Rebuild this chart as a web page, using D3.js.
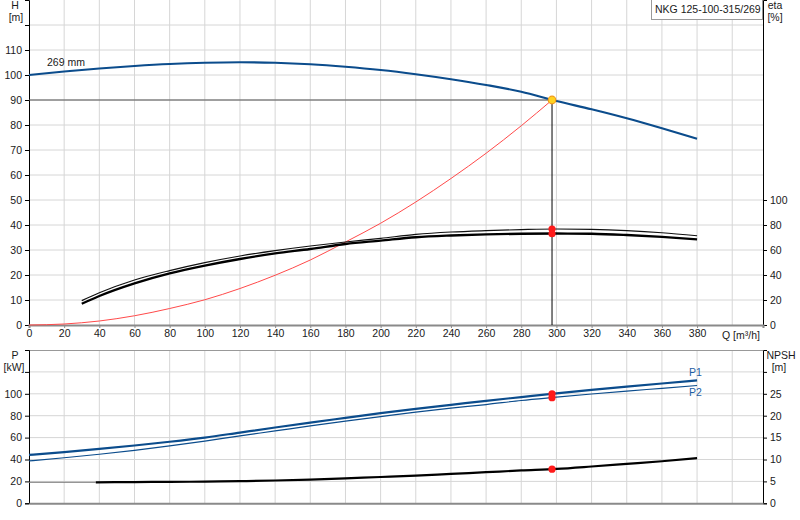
<!DOCTYPE html>
<html>
<head>
<meta charset="utf-8">
<script src="https://cdn.jsdelivr.net/npm/d3@7"></script>
<style>
  body { margin: 0; background: #fff; }
  svg { display: block; font-family: "Liberation Sans", Arial, sans-serif; }
  .tick text { font-size: 10.5px; fill: #1a1a1a; }
</style>
</head>
<body>
<svg id="chart" width="800" height="520"></svg>
<script>
// curve data
const qH = [0, 20, 40, 60, 80, 100, 120, 140, 160, 180, 200, 220, 240, 260, 280, 300, 320, 340, 360, 380];
const head = [100, 101.4, 102.6, 103.6, 104.4, 104.9, 105.1, 104.9, 104.3, 103.3, 102, 100.3, 98.3, 96, 93.3, 89.6, 86.3, 82.7, 78.7, 74.5];

const qSys = [0, 20, 40, 60, 80, 100, 120, 140, 160, 180, 200, 220, 240, 260, 280, 297.5];
const sysHead = [0, 0.4, 1.6, 3.7, 6.6, 10.1, 14.6, 19.9, 26, 33.2, 40.7, 49.2, 58.6, 68.7, 79.7, 90];

const qEta = [30, 40, 60, 80, 100, 120, 140, 160, 180, 200, 220, 240, 260, 280, 300, 320, 340, 360, 380];
const etaPump = [19.5, 25.8, 36, 43.5, 49.9, 55.2, 59.5, 63.2, 66.4, 69.3, 72.5, 74.4, 75.5, 76.3, 76.8, 76.5, 75.5, 73.8, 71.4];
const etaTotal = [17, 23.2, 33.3, 41.3, 47.5, 52.8, 57.3, 60.8, 64.8, 67.5, 70.2, 71.6, 72.5, 73, 73.2, 73, 72, 70.5, 68.5];

const qP = [0, 20, 40, 60, 80, 100, 120, 140, 160, 180, 200, 220, 240, 260, 280, 300, 320, 340, 360, 380];
const p1 = [44.2, 46.8, 49.7, 52.8, 56.2, 60, 64.6, 69.2, 73.7, 78, 82.3, 86.3, 89.9, 93.6, 97, 100.4, 103.5, 106.5, 109.4, 112.2];
const p2 = [38.7, 41.6, 44.8, 48.4, 52.4, 56.8, 61.6, 66.1, 70.7, 75, 79.2, 83.3, 86.9, 90.2, 93.9, 96.9, 99.8, 102.5, 105, 107.6];

const qNpsh = [38, 60, 80, 100, 120, 140, 160, 180, 200, 220, 240, 260, 280, 300, 320, 340, 360, 380];
const npsh = [4.8, 4.85, 4.9, 4.95, 5.05, 5.2, 5.4, 5.7, 6.0, 6.3, 6.7, 7.1, 7.5, 7.85, 8.4, 9.0, 9.6, 10.3];

// duty point
const dutyQ = 297.5;
const duty = { H: 90, etaPump: 76.8, etaTotal: 73, p1: 100, p2: 96.5, npsh: 7.8 };

const qTicks = d3.range(0, 400, 20);
const hTicks = d3.range(0, 120, 10);
const etaTicks = d3.range(0, 120, 20);
const pTicks = d3.range(0, 120, 20);
const npshTicks = d3.range(0, 30, 5);

const svg = d3.select("#chart");
const blue = "#0b4c8c";
const grid = "#d6d6d6";

const x = d3.scaleLinear().domain([0, 417.5]).range([29, 763]);
const yH = d3.scaleLinear().domain([0, 130]).range([325, 0]);
const yEta = d3.scaleLinear().domain([0, 260]).range([325, 0]);
const yP = d3.scaleLinear().domain([0, 140]).range([503.3, 350]);
const yN = d3.scaleLinear().domain([0, 35]).range([503.3, 350]);

// ---- grids
function drawGrid(g, yScale, yVals, top, bottom) {
  g.selectAll(".gx").data(d3.range(20, 420, 20)).join("line")
    .attr("x1", d => x(d)).attr("x2", d => x(d))
    .attr("y1", top).attr("y2", bottom)
    .attr("stroke", grid);
  g.selectAll(".gy").data(yVals).join("line")
    .attr("x1", x(0)).attr("x2", 763)
    .attr("y1", d => yScale(d)).attr("y2", d => yScale(d))
    .attr("stroke", grid);
}
drawGrid(svg.append("g"), yH, d3.range(10, 130, 10), 0, 325);
drawGrid(svg.append("g"), yP, d3.range(20, 140, 20), 350, 503.3);

// top border of lower plot
svg.append("line").attr("x1", x(0)).attr("x2", 763).attr("y1", 350.5).attr("y2", 350.5).attr("stroke", "#999");

// ---- axes, upper plot
const axH = svg.append("g").attr("transform", `translate(${x(0)},0)`)
  .call(d3.axisLeft(yH).tickValues(d3.range(0, 130, 10)).tickSize(4).tickPadding(3)
    .tickFormat(d => d >= 120 ? "" : d));
const axEta = svg.append("g").attr("transform", "translate(763,0)")
  .call(d3.axisRight(yEta).tickValues(etaTicks).tickSize(4).tickPadding(3));
const axQ = svg.append("g").attr("transform", `translate(0,${yH(0)})`)
  .call(d3.axisBottom(x).tickValues(qTicks).tickSize(3).tickPadding(2));

// ---- axes, lower plot
const axP = svg.append("g").attr("transform", `translate(${x(0)},0)`)
  .call(d3.axisLeft(yP).tickValues(d3.range(0, 140, 20)).tickSize(4).tickPadding(3)
    .tickFormat(d => d >= 120 ? "" : d));
const axN = svg.append("g").attr("transform", "translate(763,0)")
  .call(d3.axisRight(yN).tickValues(d3.range(0, 35, 5)).tickSize(4).tickPadding(3)
    .tickFormat(d => d >= 30 ? "" : d));
const axQ2 = svg.append("g").attr("transform", `translate(0,${yP(0)})`)
  .call(d3.axisBottom(x).tickValues([]).tickSize(0));

[axH, axEta, axP, axN].forEach(a => {
  a.select(".domain").attr("stroke", "#000");
  a.selectAll(".tick line").attr("stroke", "#000");
});
[axQ, axQ2].forEach(a => a.select(".domain").attr("stroke", "#8a8a8a").attr("stroke-width", 2));
axQ.selectAll(".tick line").attr("stroke", "#8a8a8a");

// axis titles
const label = (tx, ty, t, anchor) => svg.append("text").attr("x", tx).attr("y", ty)
  .attr("font-size", 10.5).attr("fill", "#1a1a1a").attr("text-anchor", anchor || "middle").text(t);
label(15, 9, "H");
label(16, 21, "[m]");
label(775, 9, "eta");
label(775, 21, "[%]");
label(722, 339, "Q [m³/h]", "start");
label(15, 359, "P");
label(14, 371, "[kW]");
label(781, 359, "NPSH");
label(779, 371, "[m]");

// product name box
svg.append("rect").attr("x", 651.5).attr("y", -1).attr("width", 111).attr("height", 20.5)
  .attr("fill", "#fff").attr("stroke", "#9a9a9a");
label(655, 13, "NKG 125-100-315/269", "start");

// ---- curves
const line = (xs, ys, yScale) => d3.line().curve(d3.curveMonotoneX)
  .x((d, i) => x(xs[i])).y(d => yScale(d))(ys);

// duty helper lines
svg.append("line").attr("x1", x(0)).attr("x2", x(dutyQ)).attr("y1", yH(duty.H)).attr("y2", yH(duty.H))
  .attr("stroke", "#555").attr("stroke-width", 1);
svg.append("line").attr("x1", x(dutyQ)).attr("x2", x(dutyQ)).attr("y1", yH(duty.H)).attr("y2", yH(0))
  .attr("stroke", "#000").attr("stroke-width", 1);

svg.append("path").attr("d", line(qSys, sysHead, yH))
  .attr("fill", "none").attr("stroke", "#ff4a4a").attr("stroke-width", 1);

svg.append("path").attr("d", line(qEta, etaPump, yEta))
  .attr("fill", "none").attr("stroke", "#111").attr("stroke-width", 1.2);
svg.append("path").attr("d", line(qEta, etaTotal, yEta))
  .attr("fill", "none").attr("stroke", "#000").attr("stroke-width", 2.3);

svg.append("path").attr("d", line(qH, head, yH))
  .attr("fill", "none").attr("stroke", blue).attr("stroke-width", 2.2);
label(47, 66, "269 mm", "start");

// lower plot
svg.append("path").attr("d", line(qP, p1, yP))
  .attr("fill", "none").attr("stroke", blue).attr("stroke-width", 2.2);
svg.append("path").attr("d", line(qP, p2, yP))
  .attr("fill", "none").attr("stroke", blue).attr("stroke-width", 1.2);
svg.append("line").attr("x1", x(0)).attr("x2", x(qNpsh[0])).attr("y1", yN(npsh[0])).attr("y2", yN(npsh[0]))
  .attr("stroke", "#777").attr("stroke-width", 1);
svg.append("path").attr("d", line(qNpsh, npsh, yN))
  .attr("fill", "none").attr("stroke", "#000").attr("stroke-width", 2.2);

svg.append("text").attr("x", 689).attr("y", 376).attr("font-size", 10.5).attr("fill", "#1f5fa5").text("P1");
svg.append("text").attr("x", 689).attr("y", 396).attr("font-size", 10.5).attr("fill", "#1f5fa5").text("P2");

// duty markers
const dots = [[yEta(duty.etaPump)], [yEta(duty.etaTotal)], [yP(duty.p1)], [yP(duty.p2)], [yN(duty.npsh)]];
svg.selectAll(".dot").data(dots).join("circle")
  .attr("cx", x(dutyQ)).attr("cy", d => d[0]).attr("r", 3.6).attr("fill", "#ff1a1a");
svg.append("circle").attr("cx", x(dutyQ)).attr("cy", yH(duty.H)).attr("r", 3.8)
  .attr("fill", "#ffd21f").attr("stroke", "#f29a1a").attr("stroke-width", 1.2);
</script>
</body>
</html>
